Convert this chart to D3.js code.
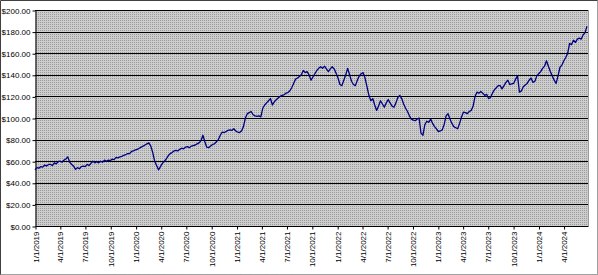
<!DOCTYPE html>
<html>
<head>
<meta charset="utf-8">
<script src="https://cdn.jsdelivr.net/npm/d3@7"></script>
<style>
  body { margin: 0; background: #fff; }
  svg { display: block; }
  text { font-family: Arial, "Liberation Sans", sans-serif; font-size: 8px; fill: #000; }
</style>
</head>
<body>
<script>
// weekly closes, starting 1/1/2019
const startDate = '2019-01-01'
const weeklyClose = [
  52, 54, 53.5, 55, 54.5, 56.5, 55.5, 57, 57, 56, 58.5, 57.5, 59.5, 60, 59, 61, 62, 64, 59, 57,
  55.5, 52.5, 54, 53, 55, 55.5, 55, 57, 56, 58, 60, 58.5, 59.5, 58.5, 60, 59, 61, 60, 61, 60.5,
  62, 61.5, 63.5, 63, 64, 64.5, 65.5, 66, 67, 67, 69, 69.5, 70.5, 71, 72, 73, 74, 75, 76, 77,
  74, 68, 60, 56, 52, 55, 58, 60, 62, 65, 67, 68, 69.5, 70, 69.5, 71, 72, 71.5, 73, 73.5,
  72.5, 74, 74.5, 75, 76, 77, 79, 84, 78, 73, 72.5, 74, 75.5, 76, 78, 80, 84, 87, 86.5, 87.5,
  88.5, 89, 88.5, 90, 88, 87, 86.5, 88, 92, 100, 104, 105, 106, 103, 102, 101.5, 102, 101, 109, 112,
  114, 116, 118, 112, 115, 117, 118.5, 120, 121, 121.5, 123, 123.5, 125, 128, 132, 136, 137, 138.5, 140, 144,
  142, 143, 140, 135, 138, 141, 144, 146, 147.5, 146, 148, 145.5, 143, 145.5, 147.5, 145.5, 141.5, 137, 131, 130,
  135, 140, 146, 140, 134, 131, 130, 135, 139, 141, 142, 137, 129, 121, 116, 118, 112, 107, 111, 116,
  113, 110, 114, 117, 114, 111, 110, 114, 119, 121, 118, 113, 109, 106, 102, 99, 98, 97.5, 99, 100,
  86, 84, 94, 97, 96, 99, 95, 92, 90, 87.5, 88, 89, 94, 102, 104, 99, 95, 92, 91, 90,
  95, 101, 105.5, 105, 104, 106, 107, 111, 120, 124, 123, 124.5, 123, 121, 122, 118, 119, 123, 126, 128,
  130, 130, 127, 130, 133, 135, 131, 131.5, 132, 136, 139, 124, 125, 129, 130.5, 132, 135, 137, 133, 134,
  139, 141, 143, 146, 148, 153, 148, 143, 139, 135, 132, 139, 147, 149, 153, 156, 160, 169, 168, 172,
  170, 173, 174, 173, 177, 179, 185
]
const yTicks = [0, 20, 40, 60, 80, 100, 120, 140, 160, 180, 200]
const xTickLabels = [
  '1/1/2019', '4/1/2019', '7/1/2019', '10/1/2019', '1/1/2020', '4/1/2020', '7/1/2020', '10/1/2020',
  '1/1/2021', '4/1/2021', '7/1/2021', '10/1/2021', '1/1/2022', '4/1/2022', '7/1/2022', '10/1/2022',
  '1/1/2023', '4/1/2023', '7/1/2023', '10/1/2023', '1/1/2024', '4/1/2024'
]

const W = 598, H = 275
const plot = { left: 35, right: 588, top: 10, bottom: 226 }

const parseIso = d3.timeParse('%Y-%m-%d')
const parseMdy = d3.timeParse('%m/%d/%Y')
const start = parseIso(startDate)
const data = weeklyClose.map((v, i) => ({ date: d3.timeDay.offset(start, i * 7), value: v }))
const tickDates = xTickLabels.map(parseMdy)

const svg = d3.select('body').append('svg')
  .attr('width', W)
  .attr('height', H)

// excel style dotted fill
const defs = svg.append('defs')
const pat = defs.append('pattern')
  .attr('id', 'dots')
  .attr('width', 2)
  .attr('height', 2)
  .attr('patternUnits', 'userSpaceOnUse')
pat.append('rect').attr('width', 2).attr('height', 2).attr('fill', '#cdcdcd')
pat.append('rect').attr('width', 1).attr('height', 1).attr('fill', '#9a9a9a')

const x = d3.scaleTime()
  .domain([start, data[data.length - 1].date])
  .range([plot.left, plot.right - 1])

const y = d3.scaleLinear()
  .domain([0, 200])
  .range([plot.bottom, plot.top])

svg.append('rect')
  .attr('x', plot.left)
  .attr('y', plot.top)
  .attr('width', plot.right - plot.left)
  .attr('height', plot.bottom - plot.top)
  .attr('fill', 'url(#dots)')

// right edge of plot area
svg.append('line')
  .attr('x1', plot.right + 0.5).attr('x2', plot.right + 0.5)
  .attr('y1', plot.top).attr('y2', plot.bottom)
  .attr('stroke', '#9a9a9a')

// gridlines
svg.append('g')
  .selectAll('line')
  .data(yTicks.filter(d => d > 0))
  .enter()
  .append('line')
  .attr('x1', plot.left)
  .attr('x2', plot.right)
  .attr('y1', d => Math.round(y(d)) + 0.5)
  .attr('y2', d => Math.round(y(d)) + 0.5)
  .attr('stroke', '#000')

const yAxis = d3.axisLeft(y)
  .tickValues(yTicks)
  .tickSize(3)
  .tickSizeOuter(0)
  .tickPadding(2)
  .tickFormat(d => '$' + d.toFixed(2))

const gy = svg.append('g')
  .attr('transform', `translate(${plot.left + 0.5},0.5)`)
  .call(yAxis)
gy.select('.domain').attr('stroke', '#000')
gy.selectAll('line').attr('stroke', '#000')
gy.selectAll('text').style('font-size', '8px')

const xAxis = d3.axisBottom(x)
  .tickValues(tickDates)
  .tickSize(3)
  .tickSizeOuter(0)
  .tickFormat((d, i) => xTickLabels[i])

const gx = svg.append('g')
  .attr('transform', `translate(0.5,${plot.bottom + 0.5})`)
  .call(xAxis)
gx.select('.domain').attr('d', `M${plot.left},0H${plot.right}`).attr('stroke', '#000')
gx.selectAll('line').attr('stroke', '#000')
gx.selectAll('text')
  .attr('transform', 'rotate(-90)')
  .attr('text-anchor', 'end')
  .attr('x', -5)
  .attr('y', 0)
  .attr('dy', '0.32em')
  .style('font-size', '8px')

const line = d3.line()
  .x(d => x(d.date))
  .y(d => y(d.value))

svg.append('path')
  .datum(data)
  .attr('fill', 'none')
  .attr('stroke', '#000080')
  .attr('stroke-width', 1.3)
  .attr('stroke-linejoin', 'round')
  .attr('d', line)

// chart border
svg.append('path')
  .attr('d', `M0.5,${H - 0.5}V0.5H${W - 0.5}`)
  .attr('fill', 'none')
  .attr('stroke', '#404040')
svg.append('path')
  .attr('d', `M${W - 0.5},0.5V${H - 0.5}H0.5`)
  .attr('fill', 'none')
  .attr('stroke', '#404040')
  .attr('stroke-dasharray', '1,1')
</script>
</body>
</html>
